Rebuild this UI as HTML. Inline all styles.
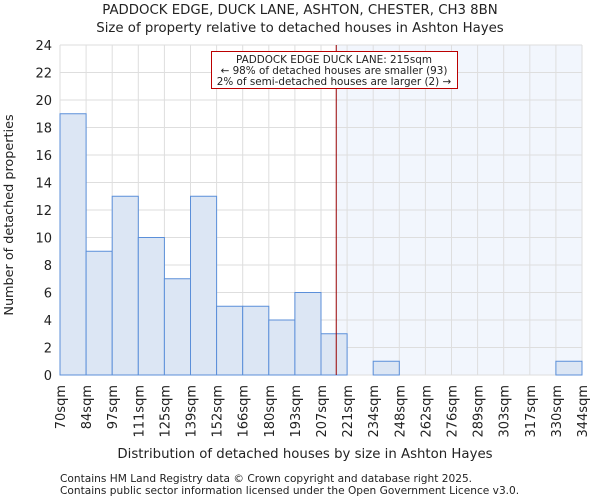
<!DOCTYPE html>
<html><head><meta charset="utf-8"><style>
body{margin:0;background:#fff;font-family:"DejaVu Sans","Liberation Sans",sans-serif;}
svg text{font-family:"DejaVu Sans","Liberation Sans",sans-serif;fill:#222;}
</style></head><body>
<svg id="c" width="600" height="500">
<text x="300" y="14" font-size="13.3" text-anchor="middle">PADDOCK EDGE, DUCK LANE, ASHTON, CHESTER, CH3 8BN</text>
<text x="300" y="32" font-size="13.3" text-anchor="middle">Size of property relative to detached houses in Ashton Hayes</text>
<g id="grid"></g><g id="bars"></g><g id="axes"></g>
<text x="305" y="458" font-size="13.3" text-anchor="middle">Distribution of detached houses by size in Ashton Hayes</text>
<text transform="translate(13,215) rotate(-90)" font-size="12.8" text-anchor="middle">Number of detached properties</text>
<text x="60" y="482" font-size="10.6">Contains HM Land Registry data © Crown copyright and database right 2025.</text>
<text x="60" y="494" font-size="10.6">Contains public sector information licensed under the Open Government Licence v3.0.</text>
</svg>
<script>
const binLabels=["70sqm","84sqm","97sqm","111sqm","125sqm","139sqm","152sqm","166sqm","180sqm","193sqm","207sqm","221sqm","234sqm","248sqm","262sqm","276sqm","289sqm","303sqm","317sqm","330sqm","344sqm"];
const counts=[19,9,13,10,7,13,5,5,4,6,3,0,1,0,0,0,0,0,0,1];
const yTicks=[0,2,4,6,8,10,12,14,16,18,20,22,24];
const subjectSize=215;
const sizeMin=70,sizeMax=344;
const NS="http://www.w3.org/2000/svg";
const L=60,R=582,T=45,B=375,yMax=24;
const n=counts.length,bw=(R-L)/n;
const xb=i=>L+i*bw;
const xs=v=>L+(v-sizeMin)/(sizeMax-sizeMin)*(R-L);
const y=v=>B-v/yMax*(B-T);
function mk(tag,at,parent){const e=document.createElementNS(NS,tag);for(const k in at)e.setAttribute(k,at[k]);document.getElementById(parent).appendChild(e);return e;}
const sx=xs(subjectSize);
const sh=mk('rect',{x:sx,y:T,width:R-sx,height:B-T,fill:'#f2f6fd'},'grid');


yTicks.forEach(t=>{
 const g=mk('line',{x1:L,x2:R,y1:y(t),y2:y(t),stroke:'#dedede'},'grid');
 
 
 const tx=mk('text',{x:L-8,y:y(t)+5,'font-size':13,'text-anchor':'end'},'axes');tx.textContent=t;
 
 
});
binLabels.forEach((lb,i)=>{
 const g=mk('line',{x1:xb(i),x2:xb(i),y1:T,y2:B,stroke:'#dedede'},'grid');
 
 
 const tx=mk('text',{transform:`translate(${xb(i)+5},${B+10}) rotate(-90)`,'font-size':13,'text-anchor':'end'},'axes');tx.textContent=lb;
 
 
});
counts.forEach((c,i)=>{
 if(c<=0)return;
 const r=mk('rect',{x:xb(i),y:y(c),width:bw,height:B-y(c),fill:'#dce6f4',stroke:'#5b8fd9','stroke-width':1},'bars');
 
 
});
const ln=mk('line',{x1:sx,x2:sx,y1:T,y2:B,stroke:'#990000','stroke-width':1},'axes');


const bx=mk('rect',{x:211.5,y:51.5,width:246,height:37,fill:'#fff',stroke:'#bb0000'},'axes');


["PADDOCK EDGE DUCK LANE: 215sqm","← 98% of detached houses are smaller (93)","2% of semi-detached houses are larger (2) →"].forEach((s,i)=>{
 const t=mk('text',{x:334,y:63+i*11,'font-size':10.4,'text-anchor':'middle'},'axes');t.textContent=s;
 
 
});
</script>
</body></html>
